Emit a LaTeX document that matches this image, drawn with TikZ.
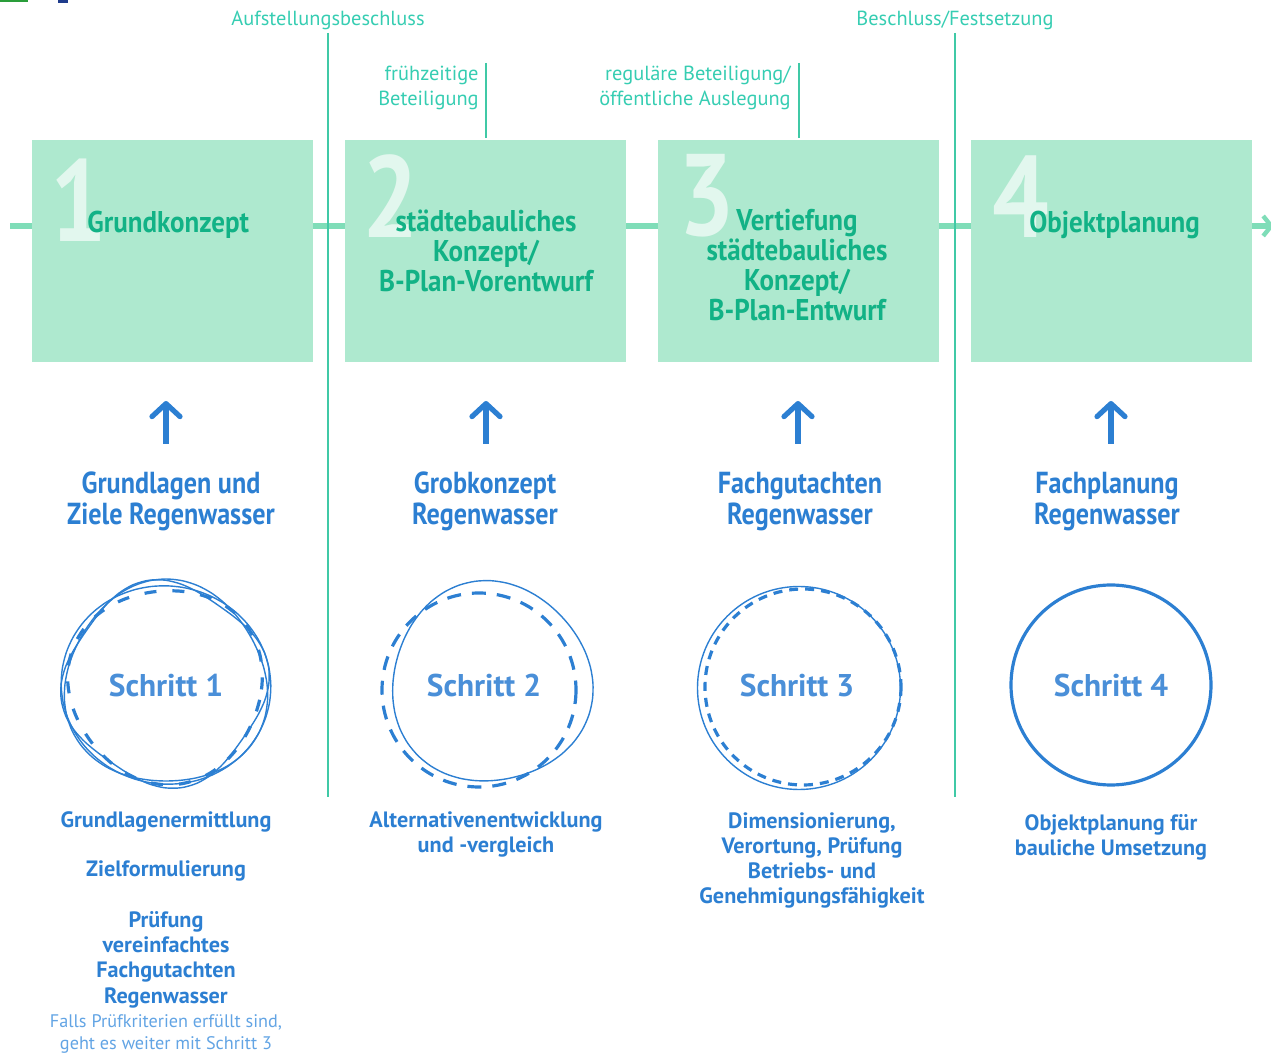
\documentclass[tikz,border=0pt]{standalone}
\usepackage{fontspec}
\setmainfont{PT Sans}
\newfontfamily\cond{PT Sans}[FakeStretch=0.86]
\newfontfamily\condb{PT Sans}[FakeStretch=0.9]
\usetikzlibrary{arrows.meta}
\definecolor{boxfill}{HTML}{AEE9CF}
\definecolor{boxtext}{HTML}{12B286}
\definecolor{bignum}{HTML}{E2F7EE}
\definecolor{tline}{HTML}{7FDDB8}
\definecolor{vline}{HTML}{40C9A6}
\definecolor{toplab}{HTML}{36CDB2}
\definecolor{bl}{HTML}{2C7FD2}
\definecolor{schritt}{HTML}{4A8FD8}
\definecolor{note}{HTML}{62A4E4}
\definecolor{fraggreen}{HTML}{2A9D3A}
\definecolor{fragblue}{HTML}{1F3C8C}
\tikzset{
  phase/.style={fill=boxfill, draw=none, minimum width=140.5pt, minimum height=111pt, inner sep=0pt, anchor=north west},
  bignumber/.style={text=bignum, font=\cond\bfseries\fontsize{58}{58}\selectfont, inner sep=0pt, anchor=base west},
  boxtitle/.style={text=boxtext, font=\condb\bfseries\fontsize{15}{15}\selectfont, inner sep=0pt, align=center},
  toplabel/.style={text=toplab, font=\fontsize{10.2}{12.5}\selectfont, inner sep=0pt},
  milestone/.style={draw=vline, line width=1pt},
  uparrow/.style={draw=bl, line width=2.6pt, -{Straight Barb[length=6.5pt,width=14pt,line width=2.6pt,round]}},
  heading/.style={text=bl, font=\cond\bfseries\fontsize{15.2}{15.5}\selectfont, inner sep=0pt, align=center, anchor=base},
  schrittlab/.style={text=schritt, font=\bfseries\fontsize{15.7}{15.7}\selectfont, inner sep=0pt},
  detail/.style={text=bl, font=\bfseries\fontsize{11.1}{12.6}\selectfont, inner sep=0pt, align=center, anchor=base},
  notetext/.style={text=note, font=\fontsize{9.1}{11}\selectfont, inner sep=0pt, align=center, anchor=base},
  sketch/.style={draw=bl, line width=0.7pt},
  sketchdash/.style={draw=bl, line width=1.6pt, dash pattern=on 6pt off 8pt},
}
\newcommand{\wobble}[7]{% style, cx, cy, r, amp, k, phase
  \draw[#1] plot[smooth cycle, samples=40, domain=0:351]
    ({#2+(#4+#5*sin(#6*\x+#7))*cos(\x)}, {#3+(#4+#5*sin(#6*\x+#7))*sin(\x)});}
\begin{document}
\begin{tikzpicture}[x=0.5pt, y=-0.5pt]
\useasboundingbox (0,0) rectangle (1271,1053);
% top-left fragments
\draw[fraggreen, line width=1pt] (0,1) -- (28,1);
\fill[fragblue] (58,0) rectangle (68,3);

% timeline
\coordinate (tl0) at (10,226);
\coordinate (tl1) at (1274,226);
\draw[tline, line width=2.6pt, -{Straight Barb[length=4pt,width=10pt,line width=2.2pt]}] (tl0) -- (tl1);

% phase boxes
\node[phase] (b1) at (32,140) {};
\node[phase] (b2) at (345,140) {};
\node[phase] (b3) at (658,140) {};
\node[phase] (b4) at (971,140) {};

% big numbers
\node[bignumber] (n1) at (50,242) {1};
\node[bignumber] (n2) at (362,238) {2};
\node[bignumber] (n3) at (678,236) {3};
\node[bignumber] (n4) at (992,238) {4};

% box titles
\node[boxtitle, anchor=base west] (t1) at (87,233) {Grundkonzept};
\node[boxtitle, anchor=north] (t2) at (486,209) {städtebauliches\\Konzept/\\B-Plan-Vorentwurf};
\node[boxtitle, anchor=north] (t3) at (797,209) {Vertiefung\\städtebauliches\\Konzept/\\B-Plan-Entwurf};
\node[boxtitle, anchor=base west] (t4) at (1029,233) {Objektplanung};

% milestones
\node[toplabel] (m1) at (328,20) {Aufstellungsbeschluss};
\node[toplabel] (m2) at (955,20) {Beschluss/Festsetzung};
\node[toplabel, align=right, anchor=north east] (m3) at (479,66) {frühzeitige\\Beteiligung};
\node[toplabel, align=right, anchor=north east] (m4) at (791,66) {reguläre Beteiligung/\\öffentliche Auslegung};
\coordinate (e1) at (328,797);
\coordinate (e2) at (955,797);
\coordinate (s3) at (486,63);
\coordinate (s4) at (799,63);
\coordinate (f3) at (486,138);
\coordinate (f4) at (799,138);
\draw[milestone] (m1.south |- 0,33) -- (e1);
\draw[milestone] (m2.south |- 0,33) -- (e2);
\draw[milestone] (s3) -- (f3);
\draw[milestone] (s4) -- (f4);

% up arrows
\foreach \i/\x in {1/166, 2/486, 3/798, 4/1111}{
  \coordinate (a\i s) at (\x,444);
  \coordinate (a\i e) at (\x,401);
  \draw[uparrow] (a\i s) -- (a\i e);
}

% headings (base = last line)
\node[heading] (h1) at (171,525) {Grundlagen und\\Ziele Regenwasser};
\node[heading] (h2) at (485,525) {Grobkonzept\\Regenwasser};
\node[heading] (h3) at (800,525) {Fachgutachten\\Regenwasser};
\node[heading] (h4) at (1107,525) {Fachplanung\\Regenwasser};

% circles
\wobble{sketch}{166}{684}{101}{4}{3}{0}
\wobble{sketch}{166}{685}{102}{3}{2}{70}
\wobble{sketch}{165}{684}{100}{5}{4}{130}
\wobble{sketchdash}{166}{685}{97}{3}{3}{200}
\node[schrittlab] (c1) at (166,686) {Schritt 1};

\wobble{sketch}{491}{683}{100}{3}{3}{40}
\draw[draw=bl, line width=1.6pt, dash pattern=on 7pt off 5.5pt] (479,690) circle[radius=97];
\node[schrittlab] (c2) at (484,686) {Schritt 2};

\draw[sketch] (799,688) circle[radius=101.5];
\draw[draw=bl, line width=1.6pt, dash pattern=on 4.5pt off 3.5pt] (803,687) circle[radius=98];
\node[schrittlab] (c3) at (797,686) {Schritt 3};

\draw[draw=bl, line width=1.6pt] (1111,685) circle[radius=100];
\node[schrittlab] (c4) at (1111,686) {Schritt 4};

% details (base = last line)
\node[detail] (d1a) at (166,828) {Grundlagenermittlung};
\node[detail] (d1b) at (166,877) {Zielformulierung};
\node[detail] (d1c) at (166,1003) {Prüfung\\vereinfachtes\\Fachgutachten\\Regenwasser};
\node[notetext] (d1d) at (166,1049) {Falls Prüfkriterien erfüllt sind,\\geht es weiter mit Schritt 3};
\node[detail] (d2) at (486,853) {Alternativenentwicklung\\und -vergleich};
\node[detail] (d3) at (812,904) {Dimensionierung,\\Verortung, Prüfung\\Betriebs- und\\Genehmigungsfähigkeit};
\node[detail] (d4) at (1111,856) {Objektplanung für\\bauliche Umsetzung};
\end{tikzpicture}
\end{document}
